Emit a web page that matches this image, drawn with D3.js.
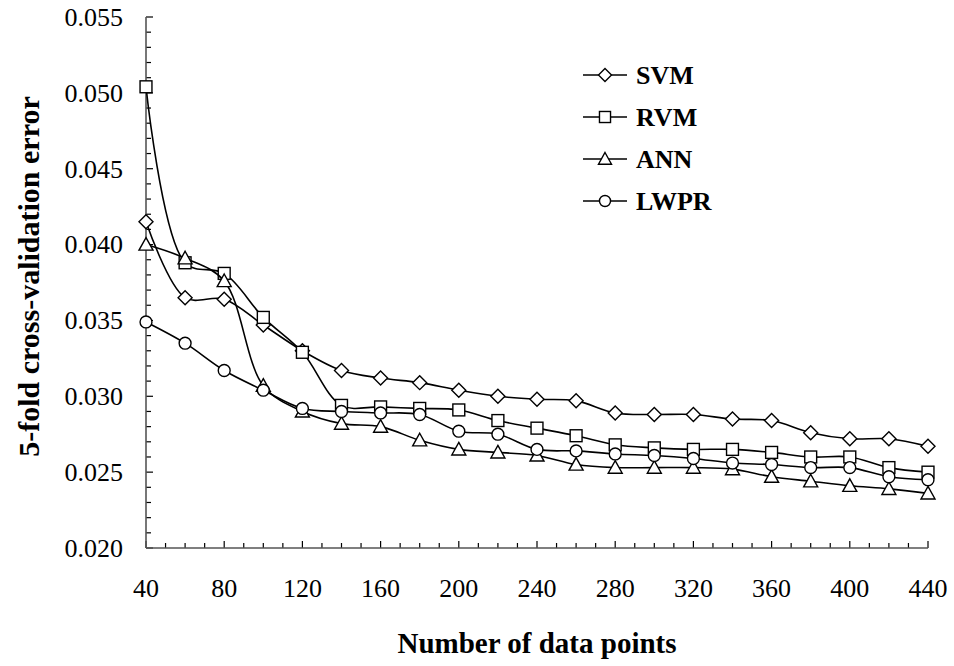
<!DOCTYPE html>
<html>
<head>
<meta charset="utf-8">
<script src="https://cdn.jsdelivr.net/npm/d3@7"></script>
<style>
body { margin: 0; background: #fff; }
svg { display: block; font-family: "Liberation Serif", "Times New Roman", serif; }
</style>
</head>
<body>
<svg id="chart"></svg>
<script>
var width = 954, height = 666;

// data
var points = [40, 60, 80, 100, 120, 140, 160, 180, 200, 220, 240, 260, 280, 300, 320, 340, 360, 380, 400, 420, 440];
var svm  = [0.0415, 0.0365, 0.0364, 0.0347, 0.0330, 0.0317, 0.0312, 0.0309, 0.0304, 0.0300, 0.0298, 0.0297, 0.0289, 0.0288, 0.0288, 0.0285, 0.0284, 0.0276, 0.0272, 0.0272, 0.0267];
var rvm  = [0.0504, 0.0388, 0.0381, 0.0352, 0.0329, 0.0294, 0.0293, 0.0292, 0.0291, 0.0284, 0.0279, 0.0274, 0.0268, 0.0266, 0.0265, 0.0265, 0.0263, 0.0260, 0.0260, 0.0253, 0.0250];
var ann  = [0.0400, 0.0391, 0.0376, 0.0307, 0.0290, 0.0282, 0.0280, 0.0271, 0.0265, 0.0263, 0.0261, 0.0255, 0.0253, 0.0253, 0.0253, 0.0252, 0.0247, 0.0244, 0.0241, 0.0239, 0.0236];
var lwpr = [0.0349, 0.0335, 0.0317, 0.0304, 0.0292, 0.0290, 0.0289, 0.0288, 0.0277, 0.0275, 0.0265, 0.0264, 0.0262, 0.0261, 0.0259, 0.0256, 0.0255, 0.0253, 0.0253, 0.0247, 0.0245];
var seriesNames = ['SVM', 'RVM', 'ANN', 'LWPR'];
var seriesSymbols = ['diamond', 'square', 'triangle', 'circle'];
var xTicks = [40, 80, 120, 160, 200, 240, 280, 320, 360, 400, 440];
var yTicks = [0.020, 0.025, 0.030, 0.035, 0.040, 0.045, 0.050, 0.055];

var allSeries = [svm, rvm, ann, lwpr];

var svg = d3.select('#chart')
		.attr('width', width)
		.attr('height', height);

var plotLeft = 146, plotRight = 928, plotTop = 17, plotBottom = 548;

var x = d3.scaleLinear().domain([40, 440]).range([plotLeft, plotRight]);
var y = d3.scaleLinear().domain([0.020, 0.055]).range([plotBottom, plotTop]);

// minor ticks
var xMinor = d3.range(40, 441, 10);
var yMinor = d3.range(20, 56, 1).map(function(d){return d / 1000});

svg.append('g').selectAll('line')
	.data(xMinor)
	.enter()
	.append('line')
		.attr('x1', function(d){return x(d)})
		.attr('x2', function(d){return x(d)})
		.attr('y1', plotBottom)
		.attr('y2', function(d){return (d - 40) % 40 == 0 ? plotBottom - 7 : plotBottom - 5})
		.attr('stroke', '#000')
		.attr('stroke-width', 1.2);

svg.append('g').selectAll('line')
	.data(yMinor)
	.enter()
	.append('line')
		.attr('x1', plotLeft)
		.attr('x2', function(d, i){return i % 5 == 0 ? plotLeft + 7 : plotLeft + 5})
		.attr('y1', function(d){return y(d)})
		.attr('y2', function(d){return y(d)})
		.attr('stroke', '#000')
		.attr('stroke-width', 1.2);

// axis lines
svg.append('line')
	.attr('x1', plotLeft).attr('x2', plotLeft)
	.attr('y1', plotTop).attr('y2', plotBottom)
	.attr('stroke', '#555').attr('stroke-width', 1.6);
svg.append('line')
	.attr('x1', plotLeft).attr('x2', plotRight)
	.attr('y1', plotBottom).attr('y2', plotBottom)
	.attr('stroke', '#555').attr('stroke-width', 1.6);

// tick labels
svg.append('g').selectAll('text')
	.data(yTicks)
	.enter()
	.append('text')
		.attr('x', plotLeft - 23)
		.attr('y', function(d){return y(d)})
		.attr('dy', '0.34em')
		.attr('text-anchor', 'end')
		.attr('font-size', 26)
		.text(function(d){return d3.format('.3f')(d)});

svg.append('g').selectAll('text')
	.data(xTicks)
	.enter()
	.append('text')
		.attr('x', function(d){return x(d)})
		.attr('y', 597)
		.attr('text-anchor', 'middle')
		.attr('font-size', 26)
		.text(function(d){return d});

// axis titles
svg.append('text')
	.attr('x', (plotLeft + plotRight) / 2)
	.attr('y', 653)
	.attr('text-anchor', 'middle')
	.attr('font-size', 29)
	.attr('font-weight', 'bold')
	.text('Number of data points');

svg.append('text')
	.attr('transform', 'translate(39,' + ((plotTop + plotBottom) / 2 - 6) + ') rotate(-90)')
	.attr('text-anchor', 'middle')
	.attr('font-size', 30)
	.attr('font-weight', 'bold')
	.text('5-fold cross-validation error');

// markers
function drawSymbol(g, kind, cx, cy, s){
	var m;
	if(kind == 'diamond') {
		m = g.append('path').attr('d', 'M' + cx + ',' + (cy - s) + 'L' + (cx + s) + ',' + cy + 'L' + cx + ',' + (cy + s) + 'L' + (cx - s) + ',' + cy + 'Z');
	} else if(kind == 'square') {
		m = g.append('rect').attr('x', cx - s * 0.85).attr('y', cy - s * 0.85).attr('width', s * 1.7).attr('height', s * 1.7);
	} else if(kind == 'triangle') {
		m = g.append('path').attr('d', 'M' + cx + ',' + (cy - s) + 'L' + (cx + s) + ',' + (cy + s * 0.8) + 'L' + (cx - s) + ',' + (cy + s * 0.8) + 'Z');
	} else {
		m = g.append('circle').attr('cx', cx).attr('cy', cy).attr('r', s * 0.85);
	}
	m.attr('fill', '#fff').attr('stroke', '#000').attr('stroke-width', 1.4);
}

var line = d3.line()
	.x(function(d, i){return x(points[i])})
	.y(function(d){return y(d)})
	.curve(d3.curveCatmullRom.alpha(0.5));

allSeries.forEach(function(vals, k){
	var g = svg.append('g');
	g.append('path')
		.attr('d', line(vals))
		.attr('fill', 'none')
		.attr('stroke', '#000')
		.attr('stroke-width', 1.6);
	vals.forEach(function(v, i){
		drawSymbol(g, seriesSymbols[k], x(points[i]), y(v), 7);
	});
});

// legend
var legend = svg.append('g');
seriesNames.forEach(function(name, k){
	var ly = 75 + k * 42;
	legend.append('line')
		.attr('x1', 583).attr('x2', 627)
		.attr('y1', ly).attr('y2', ly)
		.attr('stroke', '#000').attr('stroke-width', 1.6);
	drawSymbol(legend, seriesSymbols[k], 605, ly, 6.5);
	legend.append('text')
		.attr('x', 636)
		.attr('y', ly)
		.attr('dy', '0.35em')
		.attr('font-size', 26)
		.attr('font-weight', 'bold')
		.text(name);
});
</script>
</body>
</html>
